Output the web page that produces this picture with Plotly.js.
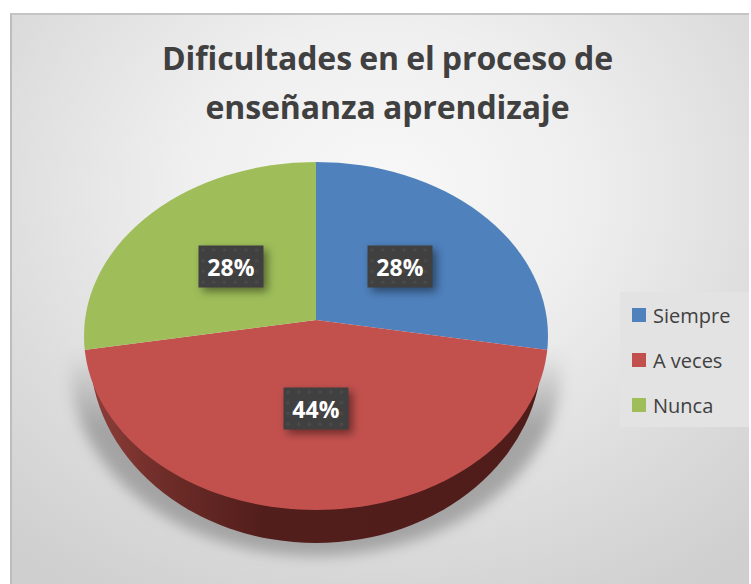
<!DOCTYPE html>
<html><head><meta charset="utf-8">
<script src="https://cdn.plot.ly/plotly-3.0.1.min.js"></script>
<style>
html,body{margin:0;padding:0;background:#fff;width:751px;height:584px;overflow:hidden}
#frame{position:absolute;left:10px;top:13px;width:739px;height:571px;box-sizing:border-box;
 border-left:2px solid #bdbdbd;border-top:2px solid #c4c4c4;
 background:radial-gradient(ellipse 560px 470px at 370px 175px,#f8f8f8 0%,#efefef 35%,#dcdcdc 72%,#cfcfcf 100%)}
#chart{position:absolute;left:0;top:0;width:751px;height:584px}
.gtitle{letter-spacing:-0.1px;word-spacing:-1px}
</style></head><body>
<div id="frame"></div><div id="chart"></div>
<script>
const categories = ["Siempre", "A veces", "Nunca"];
const shares = [28, 44, 28];
const sliceColors = ["#4f81bd", "#c2514e", "#9fbe5a"];
const wallColors = ["rgba(0,0,0,0)", "#4f1d1a", "rgba(0,0,0,0)"];
const chartTitle = "Dificultades en el proceso de<br>enseñanza aprendizaje";
const labelSpots = [[400, 266.5], [315.5, 408], [231, 266.5]];

const W = 751, H = 584;
const textColor = "#404040";
const uiFont = "'Open Sans', sans-serif";

const annotations = shares.map((v, i) => ({
  xref: "paper", yref: "paper", xanchor: "center", yanchor: "middle",
  x: labelSpots[i][0] / W, y: 1 - labelSpots[i][1] / H,
  text: "<b>" + v + "%</b>", showarrow: false,
  width: 62, height: 39, bgcolor: "#404040",
  font: {family: uiFont, size: 23, color: "#ffffff"}
}));

const base = {type: "pie", labels: categories, values: shares, sort: false,
  direction: "clockwise", rotation: 0, textinfo: "none", hoverinfo: "skip",
  domain: {x: [0, 1], y: [0, 1]}};

const data = [
  Object.assign({}, base, {showlegend: false, marker: {colors: wallColors, line: {width: 0}}}),
  Object.assign({}, base, {showlegend: true, marker: {colors: sliceColors, line: {width: 0}}})
];

const layout = {
  width: W, height: H, margin: {l: 0, r: 0, t: 0, b: 0},
  paper_bgcolor: "rgba(0,0,0,0)", plot_bgcolor: "rgba(0,0,0,0)",
  title: {text: "<b>" + chartTitle + "</b>", x: 387.5 / W, xanchor: "center", y: 1 - 40 / H, yanchor: "top",
    font: {family: uiFont, size: 32, color: textColor}},
  legend: {x: 620 / W, y: 1 - 292 / H, xanchor: "left", yanchor: "top", bgcolor: "#e3e3e3",
    font: {family: uiFont, size: 20, color: textColor}, traceorder: "normal"},
  shapes: [{type: "circle", layer: "below", xref: "paper", yref: "paper",
    x0: 70 / W, x1: 562 / W, y0: 1 - 556 / H, y1: 1 - 178 / H,
    fillcolor: "#969696", opacity: 0.8, line: {width: 0}}],
  annotations: annotations
};

Plotly.newPlot("chart", data, layout, {staticPlot: true, displayModeBar: false}).then(() => {
  const root = document.getElementById("chart");
  const svg = root.querySelector("svg.main-svg");
  const NS = "http://www.w3.org/2000/svg";
  const defs = svg.querySelector("defs") || svg.insertBefore(document.createElementNS(NS, "defs"), svg.firstChild);
  defs.insertAdjacentHTML("beforeend", `
    <clipPath id="topClip" clipPathUnits="userSpaceOnUse"><ellipse cx="316" cy="336" rx="232" ry="174"/></clipPath>
    <clipPath id="wallClip" clipPathUnits="userSpaceOnUse"><ellipse cx="316" cy="352" rx="226" ry="191"/></clipPath>
    <linearGradient id="shadowGrad" x1="0" x2="0" y1="0" y2="1">
      <stop offset="0.46" stop-color="#969696" stop-opacity="0"/>
      <stop offset="0.66" stop-color="#969696" stop-opacity="1"/>
    </linearGradient>
    <linearGradient id="wallGrad" x1="0" x2="1" y1="0" y2="0">
      <stop offset="0.116" stop-color="#8f3f3a"/><stop offset="0.24" stop-color="#6f2d29"/>
      <stop offset="0.41" stop-color="#521e1b"/><stop offset="1" stop-color="#4e1c19"/>
    </linearGradient>
    <pattern id="dots" width="10.7" height="10.7" patternUnits="userSpaceOnUse">
      <rect width="10.7" height="10.7" fill="#404040"/><circle cx="5" cy="5" r="1.6" fill="#4b4b4b"/>
    </pattern>`);

  // the pie is tilted: stretch it from its apex and trim it to the outline of the disc
  const cx = W / 2, cy = H / 2, R = Math.min(W, H) / 2;
  const sx = 232 * 1.3 / R, sy = sx * 0.68;
  const mat = (ax, ay) => `matrix(${sx},0,0,${sy},${ax - cx * sx},${ay - cy * sy})`;
  const traces = root.querySelectorAll(".pielayer .trace");
  traces[0].setAttribute("clip-path", "url(#wallClip)");
  traces[1].setAttribute("clip-path", "url(#topClip)");
  traces[0].querySelectorAll(".slice").forEach(s => s.setAttribute("transform", mat(316, 340)));
  traces[1].querySelectorAll(".slice").forEach(s => s.setAttribute("transform", mat(316, 320)));
  traces[0].querySelectorAll(".slice path")[1].style.fill = "url(#wallGrad)";

  // soft shadow under the disc
  const shadow = root.querySelector(".layer-below .shapelayer path");
  if (shadow) {
    shadow.style.fill = "url(#shadowGrad)";
    shadow.style.filter = "blur(7px)";
  }

  // label boxes
  root.querySelectorAll(".annotation rect.bg").forEach(r => {
    r.style.fill = "url(#dots)";
    r.style.filter = "drop-shadow(4px 4px 4px rgba(0,0,0,0.45))";
  });

  // title line positions
  const titleText = root.querySelector(".gtitle");
  const lines = root.querySelectorAll(".gtitle tspan.line");
  if (titleText) titleText.setAttribute("y", 70);
  if (lines.length > 1) {
    lines[0].setAttribute("y", 70);
    lines[1].removeAttribute("dy");
    lines[1].setAttribute("y", 119);
  }

  // legend rows
  const leg = root.querySelector(".legend");
  const bg = leg.querySelector("rect.bg");
  bg.setAttribute("width", 129); bg.setAttribute("height", 135);
  bg.style.strokeWidth = 0;
  const box = leg.querySelector(".scrollbox");
  box.removeAttribute("clip-path"); box.style.clipPath = "none";
  leg.querySelectorAll(".traces").forEach((t, i) => {
    t.setAttribute("transform", `translate(0,${23 + 45 * i})`);
    t.querySelectorAll(".legendpoints path").forEach(p => {
      p.setAttribute("transform", "translate(19,0) scale(1.17)");
      p.style.strokeWidth = 0;
    });
    const tx = t.querySelector("text.legendtext");
    tx.setAttribute("x", 33);
    tx.querySelectorAll("tspan").forEach(s => { if (s.getAttribute("x")) s.setAttribute("x", 33); });
  });
});
</script>
</body></html>
